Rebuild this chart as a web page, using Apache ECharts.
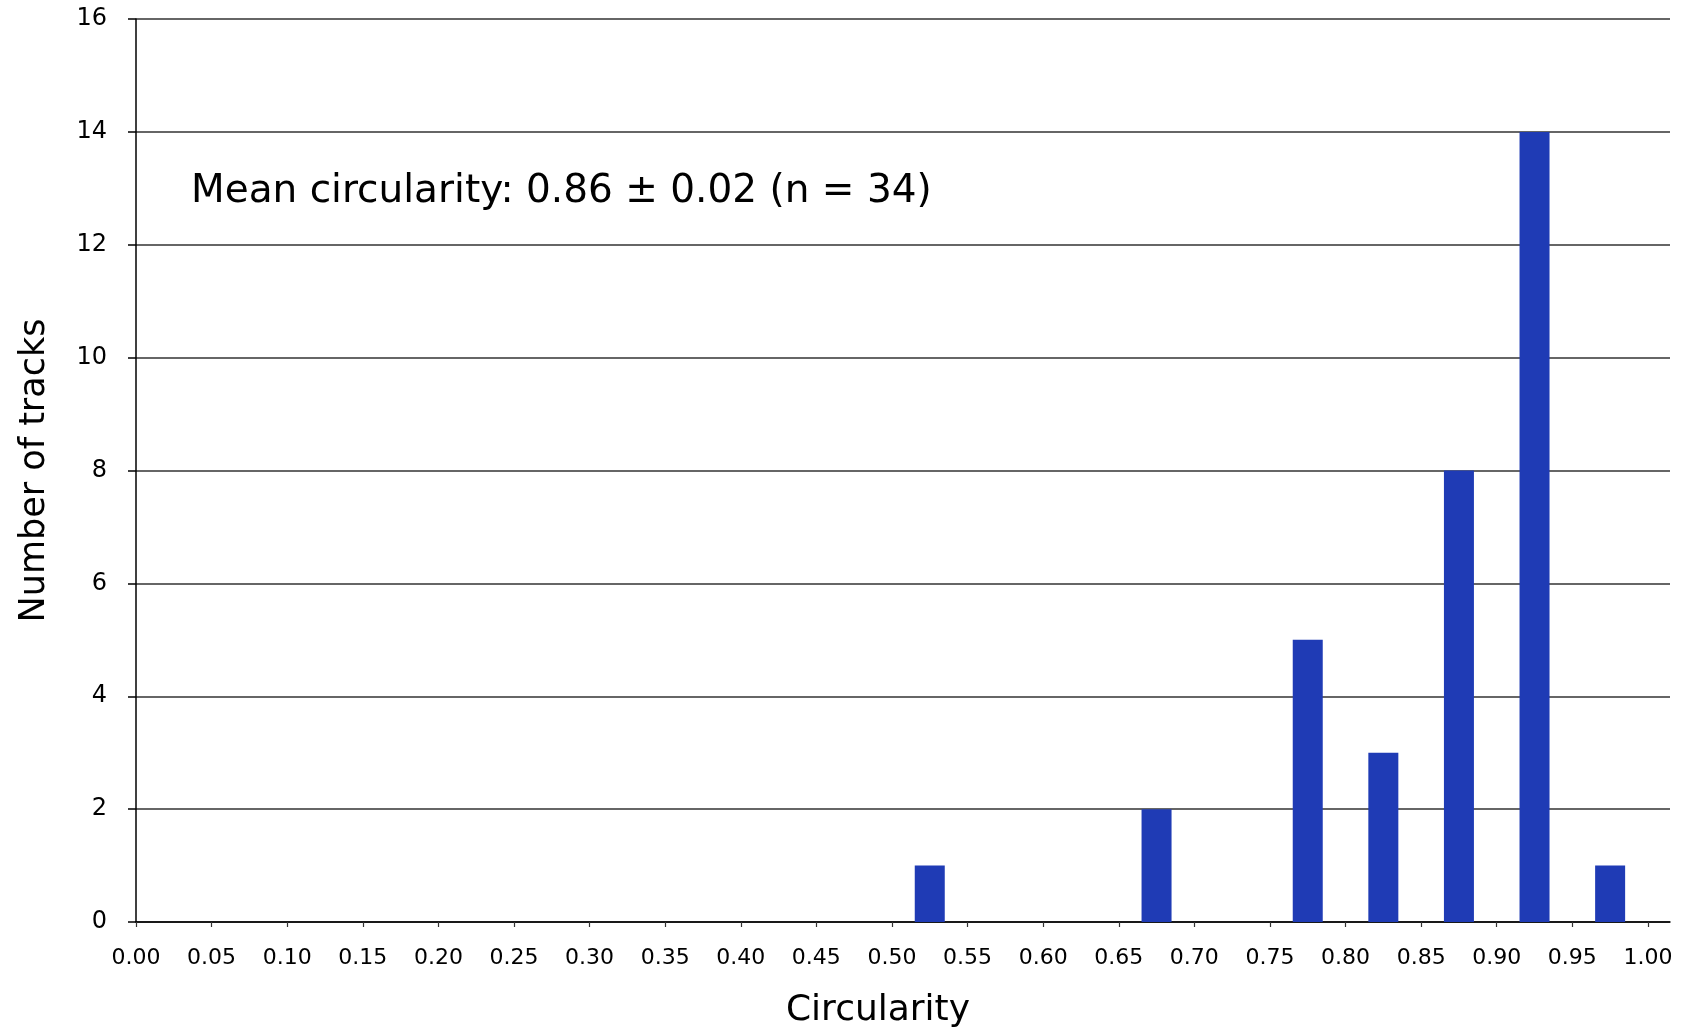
<!DOCTYPE html>
<html lang="en">
  <head>
    <meta charset="UTF-8" />
    <title>Circularity histogram</title>
    <script src="https://cdn.jsdelivr.net/npm/echarts@6.0.0/dist/echarts.min.js"></script>
    <style>
      body {
        margin: 0;
        padding: 0;
        background: #fff;
      }
      #main {
        width: 1686px;
        height: 1030px;
      }
    </style>
  </head>
  <body>
    <div id="main"></div>

    <script>
      // bin centres (bins are 0.05 wide) and number of tracks in each bin
      const binCenters = [
        0.025, 0.075, 0.125, 0.175, 0.225, 0.275, 0.325, 0.375, 0.425, 0.475,
        0.525, 0.575, 0.625, 0.675, 0.725, 0.775, 0.825, 0.875, 0.925, 0.975,
      ];
      const trackCounts = [0, 0, 0, 0, 0, 0, 0, 0, 0, 0, 1, 0, 0, 2, 0, 5, 3, 8, 14, 1];

      // x tick positions / labels
      const xTicks = [
        0.0, 0.05, 0.1, 0.15, 0.2, 0.25, 0.3, 0.35, 0.4, 0.45, 0.5,
        0.55, 0.6, 0.65, 0.7, 0.75, 0.8, 0.85, 0.9, 0.95, 1.0,
      ];

      const annotation = "Mean circularity: 0.86 \u00b1 0.02 (n = 34)";
      const font = "DejaVu Sans";

      const myChart = echarts.init(document.getElementById("main"));

      const option = {
        animation: false,
        textStyle: { fontFamily: font },
        title: {
          text: annotation,
          left: 191,
          top: 172,
          padding: 0,
          textStyle: {
            fontFamily: font,
            fontSize: 39,
            fontWeight: "normal",
            color: "#000",
          },
        },
        grid: {
          left: 136,
          right: 16,
          top: 19,
          bottom: 108,
          outerBoundsMode: "none",
        },
        xAxis: {
          type: "value",
          min: 0,
          max: 1.0146, // axis line runs a little past 1.00
          name: "Circularity",
          nameLocation: "middle",
          nameGap: 71,
          nameTextStyle: {
            fontFamily: font,
            fontSize: 36,
            color: "#000",
            padding: [0, 50, 0, 0],
          },
          axisLine: { lineStyle: { color: "#000", width: 1.5 } },
          axisTick: {
            customValues: xTicks,
            length: 5,
            lineStyle: { color: "#333", width: 1.2 },
          },
          axisLabel: {
            customValues: xTicks,
            formatter: (v) => v.toFixed(2),
            margin: 25,
            fontFamily: font,
            fontSize: 22,
            color: "#000",
          },
          splitLine: { show: false },
        },
        yAxis: {
          type: "value",
          min: 0,
          max: 16,
          interval: 2,
          name: "Number of tracks",
          nameLocation: "middle",
          nameRotate: 90,
          nameGap: 84,
          nameTextStyle: { fontFamily: font, fontSize: 35, color: "#000" },
          axisLine: { show: true, lineStyle: { color: "#000", width: 1.5 } },
          axisTick: { show: true, length: 8, lineStyle: { color: "#000", width: 1.5 } },
          axisLabel: { margin: 29, fontFamily: font, fontSize: 24, color: "#000" },
          splitLine: { show: true, lineStyle: { color: "#333", width: 1.5 } },
        },
        series: [
          {
            name: "Tracks",
            type: "bar",
            data: binCenters.map((c, i) => [c, trackCounts[i]]),
            barWidth: 30,
            itemStyle: { color: "#1f3bb5" },
          },
        ],
      };

      myChart.setOption(option);
    </script>
  </body>
</html>
